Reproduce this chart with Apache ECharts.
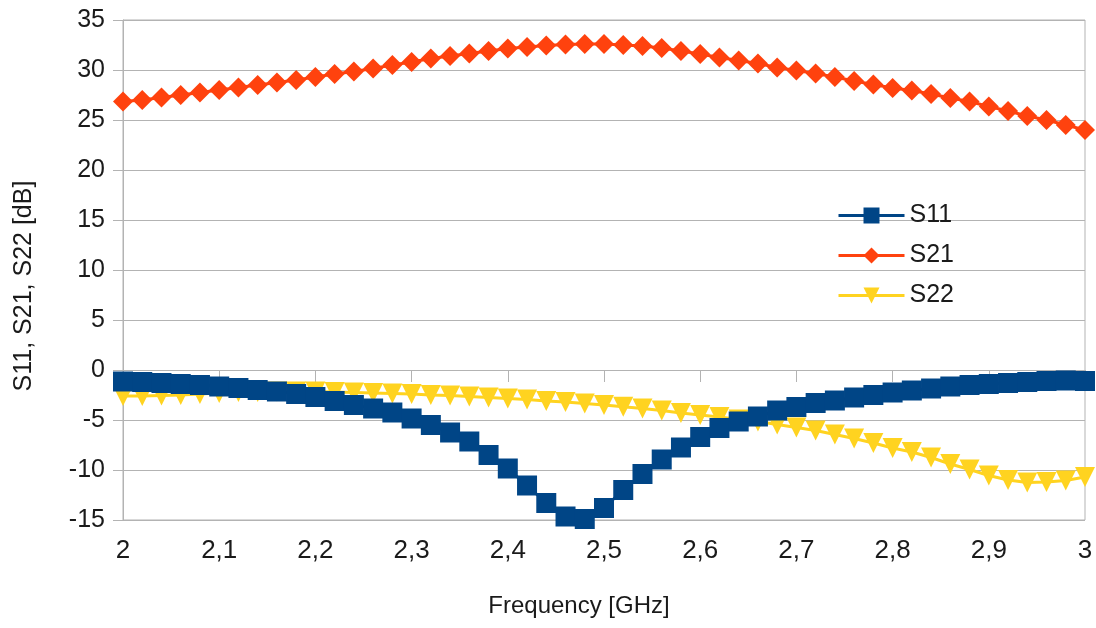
<!DOCTYPE html>
<html>
<head>
<meta charset="utf-8">
<title>S-parameters vs frequency</title>
<script src="https://cdn.jsdelivr.net/npm/echarts@6/dist/echarts.min.js"></script>
<style>
  html, body { margin: 0; padding: 0; background: #ffffff; }
  #chart { width: 1096px; height: 628px; }
</style>
</head>
<body>
<div id="chart"></div>
<script>
// Frequency sweep points [GHz]
const freq = [
  2.00, 2.02, 2.04, 2.06, 2.08, 2.10, 2.12, 2.14, 2.16, 2.18,
  2.20, 2.22, 2.24, 2.26, 2.28, 2.30, 2.32, 2.34, 2.36, 2.38,
  2.40, 2.42, 2.44, 2.46, 2.48, 2.50, 2.52, 2.54, 2.56, 2.58,
  2.60, 2.62, 2.64, 2.66, 2.68, 2.70, 2.72, 2.74, 2.76, 2.78,
  2.80, 2.82, 2.84, 2.86, 2.88, 2.90, 2.92, 2.94, 2.96, 2.98,
  3.00
];

// Input reflection [dB]
const s11 = [
  -1.15, -1.2, -1.3, -1.4, -1.5, -1.65, -1.8, -2.0, -2.15, -2.4,
  -2.7, -3.1, -3.5, -3.85, -4.25, -4.85, -5.5, -6.25, -7.15, -8.5,
  -9.85, -11.55, -13.3, -14.65, -14.9, -13.8, -12.0, -10.4, -8.95, -7.75,
  -6.7, -5.8, -5.15, -4.65, -4.05, -3.7, -3.3, -3.05, -2.75, -2.5,
  -2.25, -2.05, -1.85, -1.65, -1.5, -1.4, -1.3, -1.2, -1.1, -1.05,
  -1.1
];

// Forward gain [dB]
const s21 = [
  26.85, 27.0, 27.25, 27.5, 27.75, 28.0, 28.25, 28.5, 28.75, 29.0,
  29.3, 29.6, 29.85, 30.15, 30.5, 30.8, 31.15, 31.4, 31.65, 31.9,
  32.15, 32.3, 32.45, 32.55, 32.6, 32.6, 32.5, 32.4, 32.2, 31.9,
  31.6, 31.25, 30.95, 30.65, 30.25, 29.95, 29.65, 29.3, 28.9, 28.55,
  28.2, 27.95, 27.6, 27.2, 26.85, 26.35, 25.9, 25.4, 25.0, 24.5,
  24.0
];

// Output reflection [dB]
const s22 = [
  -2.6, -2.6, -2.55, -2.5, -2.4, -2.3, -2.2, -2.2, -2.15, -2.15,
  -2.15, -2.2, -2.25, -2.3, -2.35, -2.4, -2.5, -2.55, -2.65, -2.75,
  -2.85, -2.95, -3.1, -3.2, -3.35, -3.5, -3.67, -3.85, -4.05, -4.3,
  -4.5, -4.7, -4.95, -5.15, -5.45, -5.75, -6.05, -6.45, -6.85, -7.3,
  -7.8, -8.2, -8.75, -9.4, -9.95, -10.55, -11.0, -11.25, -11.2, -11.05,
  -10.7
];

const seriesNames = ['S11', 'S21', 'S22'];
const colors = ['#004586', '#ff420e', '#ffd320'];

const font = '"Liberation Sans", Arial, sans-serif';
const textColor = '#1a1a1a';
const gridColor = '#b3b3b3';

function pairs(values) {
  return freq.map((f, i) => [f, values[i]]);
}

const chart = echarts.init(document.getElementById('chart'), null, { renderer: 'canvas' });

chart.setOption({
  animation: false,
  backgroundColor: '#ffffff',
  color: colors,
  grid: {
    left: 123, right: 11, top: 20, bottom: 108,
    show: true, borderColor: gridColor, borderWidth: 1, backgroundColor: 'transparent'
  },
  legend: {
    orient: 'vertical',
    left: 832,
    top: 198,
    itemWidth: 66,
    itemHeight: 20,
    itemGap: 15,
    data: seriesNames,
    lineStyle: { width: 3 },
    textStyle: { fontFamily: font, fontSize: 25, color: textColor, padding: [0, 0, 0, 0] }
  },
  xAxis: {
    type: 'value',
    min: 2, max: 3, interval: 0.1,
    name: 'Frequency [GHz]',
    nameLocation: 'middle',
    nameGap: 74,
    nameTextStyle: { fontFamily: font, fontSize: 24, color: textColor, padding: [0, 50, 0, 0] },
    axisLine: { show: true, lineStyle: { color: gridColor, width: 1 } },
    axisTick: { show: true, inside: false, length: 12, lineStyle: { color: gridColor } },
    axisLabel: {
      fontFamily: font, fontSize: 26, color: textColor, margin: 18,
      formatter: v => String(Math.round(v * 10) / 10).replace('.', ',')
    },
    splitLine: { show: false }
  },
  yAxis: {
    type: 'value',
    min: -15, max: 35, interval: 5,
    name: 'S11, S21, S22 [dB]',
    nameLocation: 'middle',
    nameGap: 86,
    nameRotate: 90,
    nameTextStyle: { fontFamily: font, fontSize: 25, color: textColor, padding: [0, 32, 0, 0] },
    axisLine: { show: true, lineStyle: { color: gridColor, width: 1 } },
    axisTick: { show: true, inside: false, length: 10, lineStyle: { color: gridColor } },
    axisLabel: { fontFamily: font, fontSize: 25, color: textColor, margin: 18 },
    splitLine: { show: true, lineStyle: { color: gridColor, width: 1 } }
  },
  series: [
    {
      name: 'S11', type: 'line', data: pairs(s11), z: 4,
      symbol: 'rect', symbolSize: 20, showAllSymbol: true,
      lineStyle: { width: 3, color: colors[0] },
      itemStyle: { color: colors[0] }
    },
    {
      name: 'S21', type: 'line', data: pairs(s21), z: 3,
      symbol: 'diamond', symbolSize: 20, showAllSymbol: true,
      lineStyle: { width: 3, color: colors[1] },
      itemStyle: { color: colors[1] }
    },
    {
      name: 'S22', type: 'line', data: pairs(s22), z: 2,
      symbol: 'triangle', symbolRotate: 180, symbolSize: 20, showAllSymbol: true,
      lineStyle: { width: 3, color: colors[2] },
      itemStyle: { color: colors[2] }
    }
  ]
});
</script>
</body>
</html>
